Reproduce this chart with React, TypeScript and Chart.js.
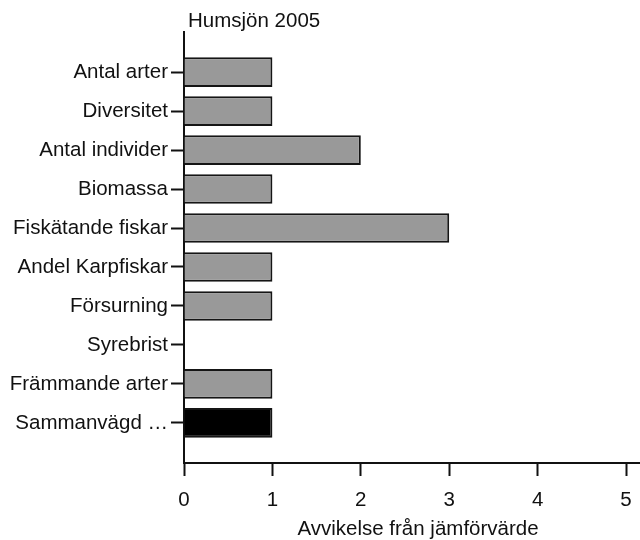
import React, { useEffect, useRef } from "react";
import { Chart, registerables } from "chart.js";

Chart.register(...registerables);

const chartTitle = "Humsjön 2005";
const categories = [
  "Antal arter",
  "Diversitet",
  "Antal individer",
  "Biomassa",
  "Fiskätande fiskar",
  "Andel Karpfiskar",
  "Försurning",
  "Syrebrist",
  "Främmande arter",
  "Sammanvägd …",
];
const values = [1, 1, 2, 1, 3, 1, 1, 0, 1, 1];
const barColors = ["#999999", "#999999", "#999999", "#999999", "#999999", "#999999", "#999999", "#999999", "#999999", "#000000"];
const xTicks = [0, 1, 2, 3, 4, 5];
const xTitle = "Avvikelse från jämförvärde";

const FONT = "'Liberation Sans', Arial, sans-serif";
const FS = 20.5;

export default function App() {
  const ref = useRef<HTMLCanvasElement | null>(null);
  useEffect(() => {
    if (!ref.current) return;
    const textPlugin = {
      id: "texts",
      afterDraw(chart: any) {
        const ctx = chart.ctx;
        const area = chart.chartArea;
        ctx.save();
        ctx.font = `${FS}px ${FONT}`;
        ctx.fillStyle = "#111";
        ctx.textAlign = "left";
        ctx.textBaseline = "alphabetic";
        ctx.fillText(chartTitle, area.left + 4, 27);
        ctx.textAlign = "center";
        ctx.fillText(xTitle, (area.left + area.right) / 2 + 6, 535);
        ctx.restore();
      },
    };
    const chart = new Chart(ref.current, {
      type: "bar",
      data: {
        datasets: [
          {
            data: values.map((v, i) => ({ x: v, y: i })),
            backgroundColor: barColors,
            borderColor: "#151515",
            borderWidth: 2,
            categoryPercentage: 1,
            barPercentage: 0.76,
          },
        ],
      },
      options: {
        indexAxis: "y",
        animation: false,
        responsive: false,
        maintainAspectRatio: false,
        layout: { padding: { top: 32, right: 0, left: 0, bottom: 0 } },
        plugins: { legend: { display: false }, tooltip: { enabled: false }, title: { display: false } },
        scales: {
          x: {
            type: "linear",
            position: "bottom",
            min: 0,
            max: 5.158,
            offset: false,
            afterBuildTicks(scale: any) {
              scale.ticks = xTicks.map((v) => ({ value: v }));
            },
            afterFit(scale: any) {
              scale.height = 77;
              scale.paddingLeft = 0;
              scale.paddingRight = 0;
            },
            grid: {
              offset: false,
              drawOnChartArea: false,
              drawTicks: true,
              tickLength: 13,
              tickColor: "#111",
              tickWidth: 2,
            },
            border: { display: true, color: "#111", width: 2 },
            ticks: {
              color: "#111",
              font: { family: FONT, size: FS },
              padding: 12,
              maxRotation: 0,
              callback: (v: any) => String(v),
            },
            title: { display: false },
          },
          y: {
            type: "linear",
            reverse: true,
            min: -1.03,
            max: 10.03,
            offset: false,
            afterBuildTicks(scale: any) {
              scale.ticks = categories.map((_, i) => ({ value: i }));
            },
            afterFit(scale: any) {
              scale.width = 184;
              scale.paddingTop = 0;
              scale.paddingBottom = 0;
            },
            grid: {
              offset: false,
              drawOnChartArea: false,
              drawTicks: true,
              tickLength: 13,
              tickColor: "#111",
              tickWidth: 2,
            },
            border: { display: true, color: "#111", width: 2 },
            ticks: {
              color: "#111",
              font: { family: FONT, size: FS },
              padding: 3,
              autoSkip: false,
              callback: (v: any) => categories[Math.round(Number(v))] ?? "",
            },
          },
        },
      },
      plugins: [textPlugin],
    } as any);
    return () => chart.destroy();
  }, []);
  return (
    <div style={{ position: "fixed", left: 0, top: 0, width: 640, height: 540, background: "#fff" }}>
      <canvas ref={ref} width={640} height={540} style={{ display: "block", width: 640, height: 540 }} />
    </div>
  );
}
